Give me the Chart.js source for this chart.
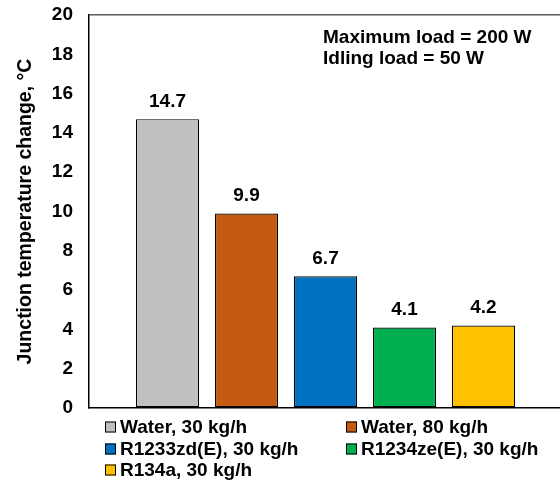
<!DOCTYPE html>
<html>
<head>
<meta charset="utf-8">
<script src="https://cdn.jsdelivr.net/npm/chart.js@4.4.1/dist/chart.umd.min.js"></script>
<style>
  html, body { margin: 0; padding: 0; background: #fff; overflow: hidden; }
  #wrap { width: 566px; height: 483px; }
</style>
</head>
<body>
<div id="wrap"><canvas id="grafico"></canvas></div>
<script>
// datos
const categorias = ['Water, 30 kg/h', 'Water, 80 kg/h', 'R1233zd(E), 30 kg/h', 'R1234ze(E), 30 kg/h', 'R134a, 30 kg/h'];
const valores = [14.7, 9.9, 6.7, 4.1, 4.2];
const colores = ['#C0C0C0', '#C55A11', '#0070C0', '#00B050', '#FFC000'];
const yMin = 0, yMax = 20, yPaso = 2;
const tituloY = 'Junction temperature change, \u00B0C';
const notas = ['Maximum load = 200 W', 'Idling load = 50 W'];

const familia = '"Liberation Sans", Arial, sans-serif';
const fuente = 'bold 19px ' + familia;

// etiquetas de valor encima de cada barra
const etiquetas = {
  id: 'etiquetas',
  afterDatasetsDraw(chart) {
    const ctx = chart.ctx;
    ctx.save();
    ctx.font = fuente;
    ctx.fillStyle = '#000';
    ctx.textAlign = 'center';
    ctx.textBaseline = 'alphabetic';
    chart.data.datasets.forEach((ds, i) => {
      const bar = chart.getDatasetMeta(i).data[0];
      ctx.fillText(ds.data[0].toFixed(1), bar.x, bar.y - 12);
    });
    ctx.restore();
  }
};

// texto de carga y leyenda en dos columnas
const extras = {
  id: 'extras',
  afterDraw(chart) {
    const ctx = chart.ctx;
    const a = chart.chartArea;
    ctx.save();
    ctx.font = fuente;
    ctx.fillStyle = '#000';
    ctx.textAlign = 'left';
    ctx.textBaseline = 'middle';
    notas.forEach((t, i) => ctx.fillText(t, a.left + 234, a.top + 23 + i * 21));

    const colX = [a.left + 16, a.left + 257];
    const filaY = [a.bottom + 19, a.bottom + 41, a.bottom + 62];
    chart.data.datasets.forEach((ds, i) => {
      const x = colX[i % 2];
      const y = filaY[Math.floor(i / 2)];
      ctx.fillStyle = ds.backgroundColor;
      ctx.fillRect(x, y - 5.5, 11, 11);
      ctx.strokeStyle = '#000';
      ctx.lineWidth = 1;
      ctx.strokeRect(x + 0.5, y - 5, 10, 10);
      ctx.fillStyle = '#000';
      ctx.fillText(ds.label, x + 15, y + 1);
    });
    ctx.restore();
  }
};

new Chart(document.getElementById('grafico').getContext('2d'), {
  type: 'bar',
  data: {
    labels: [''],
    datasets: categorias.map((c, i) => ({
      label: c,
      data: [valores[i]],
      backgroundColor: colores[i],
      borderColor: '#000',
      borderWidth: 1.2,
      borderSkipped: false,
      categoryPercentage: 0.835,
      barPercentage: 0.8
    }))
  },
  options: {
    responsive: true,
    maintainAspectRatio: false,
    animation: false,
    layout: { padding: { top: 15, left: 0, right: 4, bottom: 0 } },
    plugins: { legend: { display: false }, tooltip: { enabled: false } },
    scales: {
      x: {
        ticks: { display: false },
        grid: { display: false },
        border: { display: true, color: '#000', width: 1.5 },
        afterFit: s => { s.height = 75; }
      },
      y: {
        min: yMin,
        max: yMax,
        ticks: {
          stepSize: yPaso,
          padding: 1,
          color: '#000',
          font: { family: familia, size: 19, weight: 'bold' }
        },
        grid: {
          drawTicks: true,
          tickLength: 15,
          tickColor: 'rgba(0,0,0,0)',
          lineWidth: 1.5,
          color: c => (c.tick && c.tick.value === yMax ? '#595959' : 'rgba(0,0,0,0)')
        },
        border: { display: true, color: '#000', width: 1.5 },
        title: {
          display: true,
          text: tituloY,
          color: '#000',
          padding: { top: 14, bottom: 0 },
          font: { family: familia, size: 19.5, weight: 'bold' }
        },
        afterFit: s => { s.width = 89; }
      }
    }
  },
  plugins: [etiquetas, extras]
});
</script>
</body>
</html>
